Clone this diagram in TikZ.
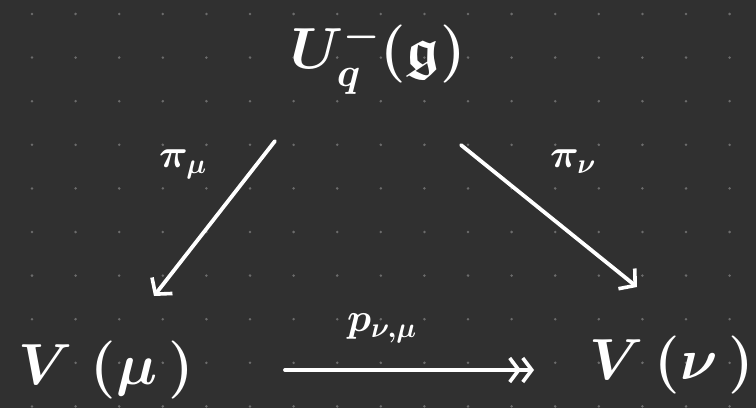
\RequirePackage{fix-cm}
\documentclass[tikz,border=0pt]{standalone}
\usepackage{amssymb}
\usetikzlibrary{arrows.meta}
\definecolor{bg}{HTML}{303030}
\definecolor{dotc}{HTML}{6C6C6C}
\begin{document}
\begin{tikzpicture}[x=1pt,y=1pt,
  lbl/.style={text=white,inner sep=0pt},
  big/.style={lbl,font=\fontsize{58}{64}\selectfont\boldmath},
  small/.style={lbl,font=\fontsize{40}{44}\selectfont\boldmath},
  arr/.style={white,line width=3.8pt,line cap=round,-{Straight Barb[length=11pt,width=26pt,line width=3.6pt]}},
  arrtwo/.style={white,line width=3.8pt,line cap=round,-{Straight Barb[length=9pt,width=24pt,line width=3.6pt]Straight Barb[length=9pt,width=24pt,line width=3.6pt]}}]
\fill[bg] (0,0) rectangle (756,408);
\useasboundingbox (0,0) rectangle (756,408);
\foreach \i in {0,...,17}{\foreach \j in {0,...,9}{
  \fill[dotc] (32+43.6*\i,394-43.6*\j) circle (1.4pt);}}
\node[big] (U) at (378,350) {$U_q^{-}(\mathfrak{g})$};
\node[big] (Vmu) at (106,38) {$V\;(\mu\,)$};
\node[big] (Vnu) at (672,43) {$V\,(\nu\,)$};
\coordinate (a1) at (275,267);
\coordinate (a2) at (154,112);
\coordinate (b1) at (461,263);
\coordinate (b2) at (637,121);
\coordinate (c1) at (285,38);
\coordinate (c2) at (534,38);
\draw[arr] (a1) -- (a2);
\draw[arr] (b1) -- (b2);
\draw[arrtwo] (c1) -- (c2);
\node[small] (pmu) at (183,244) {$\pi_{\mu}$};
\node[small] (pnu) at (573,246) {$\pi_{\nu}$};
\node[small] (pnm) at (382,80) {$p_{\nu,\mu}$};
\end{tikzpicture}
\end{document}
